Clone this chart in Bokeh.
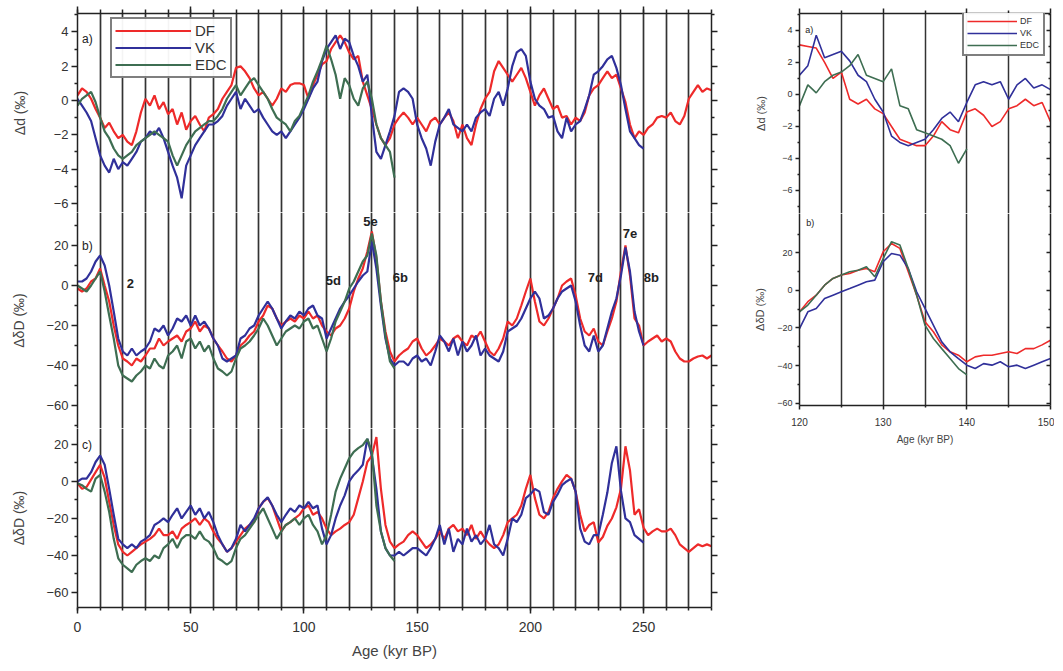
from bokeh.plotting import figure
from bokeh.models import LinearAxis, FixedTicker, Grid, CustomJSTickFormatter, Legend, LegendItem, Range1d
from bokeh.layouts import column, row
from bokeh.embed import file_html
from bokeh.resources import INLINE
from bokeh.core.properties import value

# ---- data ----
# main panels: DF 0-280 kyr, VK 0-250 kyr, EDC 0-140 kyr, every 2 kyr
age_df = list(range(0, 282, 2))
age_vk = list(range(0, 252, 2))
age_edc = list(range(0, 142, 2))

a_df = [0.3, 0.7, 0.5, 0.1, -0.5, -1.0, -1.6, -1.3, -1.8, -2.2,
        -2.0, -2.4, -2.6, -1.8, -0.7, 0.1, -0.3, 0.3, -0.5, -0.1,
        -0.8, -0.5, -1.4, -0.7, -1.7, -1.2, -0.9, -1.4, -1.8, -1.0,
        -0.8, -0.5, 0.1, 0.5, 0.9, 1.9, 2.0, 1.7, 1.3, 0.7,
        0.3, 0.5, 0.1, -0.3, 0.1, 0.7, 0.5, 0.9, 1.0, 1.0,
        0.9, 0.1, 0.9, 1.5, 2.1, 2.3, 3.0, 3.4, 3.8, 3.4,
        2.8, 2.4, 2.6, 1.1, 0.3, -0.5, -1.4, -2.2, -2.6, -2.2,
        -1.4, -1.0, -0.7, -1.0, -1.4, -1.0, -1.4, -1.8, -1.2, -1.0,
        -1.4, -1.0, -0.7, -1.2, -2.2, -1.4, -2.2, -2.6, -1.4, -0.5,
        0.1, 0.5, 1.7, 2.3, 1.9, 1.5, 1.1, 1.5, 1.9, 1.3,
        0.5, -0.3, 0.3, 0.7, 0.1, -0.5, -0.3, -1.0, -0.9, -1.4,
        -1.0, -1.2, -0.7, 0.3, 0.7, 0.9, 1.3, 1.7, 1.3, 1.5,
        0.7, -0.1, -1.4, -2.2, -1.8, -2.0, -1.6, -1.4, -1.0, -0.9,
        -1.0, -0.7, -1.2, -1.4, -0.9, 0.1, 0.5, 0.9, 0.5, 0.7, 0.6]
a_vk = [0.1, -0.3, -0.7, -1.2, -2.2, -3.2, -3.8, -4.2, -3.4, -4.0,
        -3.6, -3.8, -3.4, -3.0, -2.4, -2.2, -1.8, -2.0, -1.6, -2.2,
        -3.0, -3.8, -4.5, -5.7, -3.8, -3.2, -2.6, -2.2, -1.8, -1.4,
        -1.4, -1.2, -0.9, -0.3, 0.1, 0.5, -0.5, 0.1, -0.3, -0.7,
        -0.5, -1.0, -1.4, -1.8, -2.0, -1.8, -2.2, -1.8, -1.4, -1.0,
        -0.5, 0.1, 0.7, 1.1, 2.3, 3.0, 3.4, 3.8, 3.0, 3.6,
        3.4, 2.6, 2.0, 1.1, 1.5, -0.9, -3.0, -3.4, -2.6, -1.8,
        -0.9, 0.5, 0.7, 0.5, 0.1, -1.4, -2.2, -2.8, -3.8, -2.4,
        -1.4, -1.0, -0.5, -1.4, -1.6, -1.8, -1.4, -1.8, -1.0, -0.7,
        -0.5, -0.9, 0.1, 0.5, -0.3, 0.7, 2.0, 2.8, 3.0, 2.6,
        1.1, 0.1, -0.3, -0.5, -1.0, -0.9, -1.8, -2.2, -1.0, -1.8,
        -1.4, -1.2, -0.5, 0.3, 1.5, 1.7, 2.0, 2.4, 2.6, 1.9,
        0.9, -0.5, -1.8, -2.2, -2.6, -2.8]
a_edc = [-0.3, 0.1, 0.3, 0.5, -0.1, -1.0, -1.8, -2.2, -2.8, -3.2,
         -3.4, -3.2, -3.0, -2.6, -2.4, -2.2, -2.0, -1.8, -2.0, -2.2,
         -2.4, -3.2, -3.8, -3.2, -2.6, -2.2, -1.8, -1.6, -1.4, -1.2,
         -1.2, -0.9, -0.5, 0.1, 0.5, 0.9, 0.3, 0.7, 1.1, 1.3,
         0.9, 0.5, 0.1, -0.5, -1.0, -1.2, -1.4, -1.8, -1.2, -0.9,
         -0.3, 0.3, 1.1, 1.7, 2.4, 3.2, 2.4, 1.5, 0.1, 1.3,
         0.9, 0.1, -0.3, 0.7, 1.1, 0.1, -1.4, -2.2, -2.6, -3.0, -4.5]

b_df = [-1.5, -3, -1.5, 2, 3.5, 8.5, 0, -8, -20, -30,
        -36.5, -38, -40, -36.5, -38, -35, -31.5, -31.5, -26.5, -30,
        -28, -26.5, -25, -28, -23, -21.5, -18, -23, -20, -21.5,
        -26.5, -30, -33, -36.5, -38, -35, -30, -28, -25, -23,
        -18, -15, -10, -11.5, -16.5, -20, -18, -16.5, -18, -15,
        -16.5, -13, -16.5, -15, -20, -23, -25, -21.5, -20, -16.5,
        -11.5, -3, 3.5, 8.5, 17, 27, 13.5, -8, -23, -33,
        -38, -35, -33, -31.5, -28, -26.5, -31.5, -35, -33, -30,
        -26.5, -28, -30, -26.5, -25, -28, -30, -25, -26.5, -23,
        -28, -33, -35, -31.5, -26.5, -18, -20, -16.5, -10, -3,
        3.5, -8, -18, -20, -16.5, -11.5, -6.5, 0, 2, 3.5,
        -5, -16.5, -23, -25, -21.5, -28, -30, -23, -16.5, -8,
        7, 20, 5, -16.5, -20, -30, -28, -26.5, -25, -28,
        -26.5, -28, -33, -36.5, -38, -38, -36.5, -35.5, -35, -36.5, -35]
b_vk = [2, 2, 3.5, 7, 12, 15, 10, 0, -13, -26.5,
        -33, -35, -31.5, -35, -33, -31.5, -28, -21.5, -23, -20,
        -25, -21.5, -16.5, -18, -15, -20, -15, -20, -18, -21.5,
        -26.5, -30, -36.5, -38, -36.5, -35, -26.5, -25, -21.5, -20,
        -15, -11.5, -8, -11.5, -16.5, -21.5, -18, -15, -16.5, -13,
        -15, -11.5, -10, -15, -16.5, -26.5, -21.5, -16.5, -11.5, -8,
        -5, -1.5, 2, 5, 7, 22, 8.5, -10, -26.5, -36.5,
        -40, -38, -38, -40, -36.5, -35, -38, -36.5, -40, -33,
        -25, -28, -33, -26.5, -35, -28, -33, -30, -25, -35,
        -31.5, -35, -36.5, -38, -33, -23, -21.5, -20, -16.5, -11.5,
        -6.5, -3, -6.5, -16.5, -15, -11.5, -6.5, -3, -1.5, 0,
        -8, -20, -30, -33, -25, -33, -30, -21.5, -13, -6.5,
        5, 19, 7, -13, -23, -30]
b_edc = [0, -1.5, -3, 0, 3.5, 7, -3, -15, -26.5, -40,
         -45, -46.5, -48, -45, -43, -40, -41.5, -36.5, -40, -41.5,
         -35, -33, -30, -36.5, -28, -26.5, -31.5, -28, -33, -30,
         -36.5, -41.5, -43, -45, -43, -36.5, -31.5, -30, -28, -25,
         -21.5, -16.5, -20, -25, -30, -26.5, -23, -21.5, -20, -21.5,
         -18, -16.5, -21.5, -20, -26.5, -33, -26.5, -18, -13, -8,
         -1.5, 2, 7, 12, 15, 26, 15, -8, -25, -38, -41.5]

c_df = [-1, -4, -3, 1, 5, 9, 2, -11, -23.5, -34,
        -38, -40, -38, -36, -34, -32.5, -31, -29, -25.5, -29,
        -29, -27, -31, -25.5, -23.5, -22, -20, -23.5, -20, -22,
        -27, -31, -34, -38, -36, -32.5, -29, -25.5, -23.5, -22,
        -14.5, -11, -9, -13, -20, -27, -23.5, -22, -20, -18,
        -14.5, -13, -18, -16.5, -20, -25.5, -29, -27, -25.5, -23.5,
        -22, -18, -9, 0, 10.5, 14, 24, -4, -23.5, -32.5,
        -36, -34, -32.5, -29, -27, -29, -32.5, -36, -34, -31,
        -27, -31, -25.5, -23.5, -27, -25.5, -29, -23.5, -31, -27,
        -31, -34, -36, -34, -29, -22, -20, -18, -13, -4,
        3.5, -9, -18, -20, -16.5, -9, -4, 0, 3.5, 1.5,
        -5.5, -18, -27, -23.5, -22, -33, -30, -24, -20, -14,
        -4, 19, 6, -18, -15, -25, -29, -27, -25.5, -27,
        -27, -25.5, -29, -34, -36, -38, -36, -34, -35, -34, -35]
c_vk = [0, 1.5, 1.5, 5, 10.5, 14, 9, -4, -18, -31,
        -34, -36, -34, -36, -32.5, -31, -29, -23.5, -22, -20,
        -22, -18, -14.5, -20, -16.5, -13, -18, -14.5, -20, -16.5,
        -22, -29, -34, -38, -36, -31, -23.5, -27, -23.5, -20,
        -14.5, -11, -8.5, -13, -18, -22, -18, -14.5, -16.5, -13,
        -14.5, -11, -14.5, -13, -25.5, -34, -29, -20, -13, -7.5,
        0, 3.5, 6, 9, 23, 14, -4, -27, -36, -40,
        -40, -38, -40, -38, -36, -36, -38, -40, -36, -31,
        -23.5, -34, -25.5, -38, -31, -34, -25.5, -32.5, -29, -34,
        -31, -23.5, -34, -36, -40, -31, -20, -22, -18, -9,
        -7, -4, -5.5, -16.5, -18, -11, -7, -2, 0, 1.5,
        -5.5, -25.5, -32.5, -34, -29, -29, -18, -6, 10, 19,
        -5, -20, -22, -29, -31, -33]
c_edc = [-1, -2, -4, -5.5, 1.5, 3.5, -5.5, -16.5, -31, -41.5,
         -45, -47, -49, -45, -43, -41.5, -43, -40, -41.5, -36,
         -34, -31, -36, -31, -29, -29, -31, -27, -31, -32.5,
         -36, -41.5, -43, -45, -43, -36, -31, -29, -25.5, -22,
         -18, -14.5, -20, -25.5, -31, -27, -23.5, -22, -20, -23.5,
         -20, -18, -23.5, -27, -34, -29, -18, -5.5, 1.5, 7,
         12.5, 16, 18, 19.6, 23, 16, -13, -27, -36, -40, -43]

# right-hand zoom panel: 120-150 kyr, every 1 kyr (EDC to 140)
age_r = list(range(120, 151))
age_r_edc = list(range(120, 141))
ra_df = [3.1, 3.0, 2.9, 2.0, 1.0, 1.4, -0.3, -0.6, -0.3, -0.9, -1.2, -2.0, -2.8, -3.0, -3.2, -3.2,
         -2.6, -1.7, -2.2, -2.4, -1.1, -0.9, -1.3, -2.0, -1.7, -0.9, -0.7, -0.3, -0.7, -0.5, -1.7]
ra_vk = [1.2, 1.8, 3.7, 2.3, 2.5, 2.7, 2.1, 1.2, 0.8, -0.3, -1.1, -2.6, -3.0, -3.2, -3.0, -2.8,
         -2.2, -1.5, -1.1, -1.7, -0.5, 0.6, 0.8, 0.6, 0.8, -0.3, 0.6, 1.0, 0.4, 0.6, 0.3]
ra_edc = [-0.7, 0.6, 0.1, 0.8, 1.2, 1.4, 1.8, 2.5, 1.2, 1.0, 0.8, 1.6, -0.7, -0.9, -2.2, -2.4,
          -2.6, -2.8, -3.2, -4.3, -3.4]
rb_df = [-11.4, -6, -2.5, 2.8, 6.4, 8.2, 9, 10.8, 11.7, 10, 20.6, 25, 22.4, 10, -2.5, -16.7,
         -22, -29, -32.7, -34.5, -38, -35.4, -34.5, -34.5, -33.6, -32.7, -33.6, -31, -31, -29, -26.5]
rb_vk = [-20.3, -11.4, -9.6, -4.3, -2.5, -0.7, 1, 2.8, 4.6, 5.5, 15.3, 19.7, 18.8, 11.7, -0.7, -9.6,
         -18.5, -27.4, -32.7, -36.3, -39.8, -41.6, -39, -39.8, -38, -40.7, -39.8, -41.6, -39.8, -38, -36.3]
rb_edc = [-11.4, -7.8, -2.5, 2.8, 6.4, 8.2, 10, 10.8, 12.6, 7.3, 17, 26, 24.2, 11.7, -2.5, -18.5,
          -25.6, -31, -36.3, -41.6, -45]

# stage labels in panel b
stage_age = [23.4, 113, 129.4, 142.6, 228.7, 244, 253.4]
stage_val = [1, 2.5, 32, 4, 4, 26, 4]
stage_txt = ["2", "5d", "5e", "6b", "7d", "7e", "8b"]

RED = "#ee2a2a"
BLUE = "#30309a"
GREEN = "#3e6e52"
INK = "#222222"
FONT = "Liberation Sans"


def style_axis(ax, ticks, minor, out=6, mout=3, size="13px", labels=True, tin=0):
    ax.ticker = FixedTicker(ticks=ticks, minor_ticks=minor)
    ax.axis_line_color = INK
    ax.axis_line_width = 1.5
    ax.major_tick_line_color = INK
    ax.minor_tick_line_color = INK
    ax.major_tick_line_width = 1.5
    ax.minor_tick_line_width = 1.5
    ax.major_tick_out = out
    ax.minor_tick_out = mout
    ax.major_tick_in = tin
    ax.minor_tick_in = tin // 2
    ax.major_label_text_font = FONT
    ax.major_label_text_font_size = size
    ax.major_label_text_color = "#333333"
    ax.major_label_standoff = 3
    ax.axis_label_text_font = FONT
    ax.axis_label_text_font_style = "normal"
    ax.axis_label_text_color = "#444444"
    if not labels:
        ax.formatter = CustomJSTickFormatter(code="return ''")
        ax.major_label_text_font_size = "1px"
        ax.major_label_standoff = 0


def make_fig(xr, yr, fw, fh, left, right, top=0, bottom=0):
    p = figure(x_range=xr, y_range=yr, frame_width=fw, frame_height=fh,
               x_axis_location=None, y_axis_location="left",
               toolbar_location=None, output_backend="svg",
               min_border_left=left, min_border_right=right,
               min_border_top=top, min_border_bottom=bottom)
    p.outline_line_color = None
    p.grid.visible = False
    p.background_fill_color = "white"
    return p


def vlines(p, ticks, width):
    g = Grid(dimension=0, ticker=FixedTicker(ticks=ticks))
    g.grid_line_color = "#333333"
    g.grid_line_width = width
    p.add_layout(g)


# ---------------- main stack ----------------
xr = Range1d(0, 280)
xt_major = [0, 50, 100, 150, 200, 250]
xt_minor = list(range(0, 281, 10))
main_lines = list(range(10, 280, 10))

pa = make_fig(xr, (-6.53, 5.07), 634, 199, 77, 40, top=13)
pb = make_fig(xr, (-71.5, 36.5), 634, 216, 77, 40)
pc = make_fig(xr, (-68.1, 28.6), 634, 179, 77, 40, bottom=56)

for p in (pa, pb, pc):
    vlines(p, main_lines, 1.7)
    p.add_layout(LinearAxis(), "right")

style_axis(pa.yaxis[0], [-6, -4, -2, 0, 2, 4], [-5, -3, -1, 1, 3, 5])
style_axis(pa.yaxis[1], [-6, -4, -2, 0, 2, 4], [-5, -3, -1, 1, 3, 5], labels=False)
pa.yaxis[0].axis_label = "Δd (‰)"
pa.yaxis[0].axis_label_standoff = 23
for p in (pb, pc):
    style_axis(p.yaxis[0], [-60, -40, -20, 0, 20], [-70, -50, -30, -10, 10, 30])
    style_axis(p.yaxis[1], [-60, -40, -20, 0, 20], [-70, -50, -30, -10, 10, 30], labels=False)
    p.yaxis[0].axis_label = "ΔδD (‰)"
    p.yaxis[0].axis_label_standoff = 16
for p in (pa, pb, pc):
    p.yaxis[0].axis_label_text_font_size = "14px"

top_ax = LinearAxis()
style_axis(top_ax, xt_major, xt_minor, out=7, mout=4, labels=False)
pa.add_layout(top_ax, "above")

bot_ax = LinearAxis(axis_label="Age (kyr BP)")
style_axis(bot_ax, xt_major, xt_minor, out=6, mout=3, size="14px")
bot_ax.major_label_standoff = 8
bot_ax.axis_label_text_font_size = "15px"
bot_ax.axis_label_standoff = 7
pc.add_layout(bot_ax, "below")

ra1 = pa.line(age_df, a_df, color=RED, line_width=2.2)
ra2 = pa.line(age_vk, a_vk, color=BLUE, line_width=2.2)
ra3 = pa.line(age_edc, a_edc, color=GREEN, line_width=2.2)
pb.line(age_df, b_df, color=RED, line_width=2.2)
pb.line(age_vk, b_vk, color=BLUE, line_width=2.2)
pb.line(age_edc, b_edc, color=GREEN, line_width=2.2)
pc.line(age_df, c_df, color=RED, line_width=2.2)
pc.line(age_vk, c_vk, color=BLUE, line_width=2.2)
pc.line(age_edc, c_edc, color=GREEN, line_width=2.2)

leg = Legend(items=[LegendItem(label="DF", renderers=[ra1]),
                    LegendItem(label="VK", renderers=[ra2]),
                    LegendItem(label="EDC", renderers=[ra3])],
             location=(33, 134))
leg.border_line_color = "black"
leg.border_line_width = 2
leg.label_text_font = FONT
leg.label_text_font_size = "15px"
leg.label_text_color = "#333333"
leg.glyph_width = 76
leg.glyph_height = 17
leg.label_height = 17
leg.label_standoff = 4
leg.spacing = 0
leg.padding = 3
leg.margin = 0
pa.add_layout(leg)

pa.text(x=[2], y=[3.6], text=["a)"], text_font=value(FONT), text_font_size="12px",
        text_color=INK, text_baseline="middle")
pb.text(x=[2], y=[20], text=["b)"], text_font=value(FONT), text_font_size="12px",
        text_color=INK, text_baseline="middle")
pc.text(x=[2], y=[19.5], text=["c)"], text_font=value(FONT), text_font_size="12px",
        text_color=INK, text_baseline="middle")
pb.text(x=stage_age, y=stage_val, text=stage_txt, text_font=value(FONT), text_font_size="13px",
        text_font_style="bold", text_color=INK, text_align="center", text_baseline="middle")

# ---------------- right zoom panel ----------------
xr2 = Range1d(120, 150)
r_lines = [125, 130, 135, 140, 145]
qa = make_fig(xr2, (-7.44, 5.06), 251, 200, 47, 4, top=13)
qb = make_fig(xr2, (-61.3, 41), 251, 192, 47, 4, bottom=45)
for q in (qa, qb):
    vlines(q, r_lines, 1.5)
    q.add_layout(LinearAxis(), "right")

style_axis(qa.yaxis[0], [-6, -4, -2, 0, 2, 4], [-7, -5, -3, -1, 1, 3, 5], out=4, mout=2, size="9px")
style_axis(qa.yaxis[1], [-6, -4, -2, 0, 2, 4], [-7, -5, -3, -1, 1, 3, 5], out=0, mout=0, labels=False, tin=4)
qa.yaxis[0].axis_label = "Δd (‰)"
qa.yaxis[0].axis_label_standoff = 12
style_axis(qb.yaxis[0], [-60, -40, -20, 0, 20], [-50, -30, -10, 10, 30], out=4, mout=2, size="9px")
style_axis(qb.yaxis[1], [-60, -40, -20, 0, 20], [-50, -30, -10, 10, 30], out=0, mout=0, labels=False, tin=4)
qb.yaxis[0].axis_label = "ΔδD (‰)"
qb.yaxis[0].axis_label_standoff = 8
for q in (qa, qb):
    q.yaxis[0].axis_label_text_font_size = "11px"

top2 = LinearAxis()
style_axis(top2, [120, 130, 140, 150], [125, 135, 145], out=5, mout=3, labels=False)
qa.add_layout(top2, "above")
bot2 = LinearAxis(axis_label="Age (kyr BP)")
style_axis(bot2, [120, 130, 140, 150], [125, 135, 145], out=4, mout=2, size="10px")
bot2.major_label_standoff = 8
bot2.axis_label_text_font_size = "10px"
bot2.axis_label_standoff = 5
qb.add_layout(bot2, "below")

qa1 = qa.line(age_r, ra_df, color=RED, line_width=1.6)
qa2 = qa.line(age_r, ra_vk, color=BLUE, line_width=1.6)
qa3 = qa.line(age_r_edc, ra_edc, color=GREEN, line_width=1.6)
qb.line(age_r, rb_df, color=RED, line_width=1.6)
qb.line(age_r, rb_vk, color=BLUE, line_width=1.6)
qb.line(age_r_edc, rb_edc, color=GREEN, line_width=1.6)

leg2 = Legend(items=[LegendItem(label="DF", renderers=[qa1]),
                     LegendItem(label="VK", renderers=[qa2]),
                     LegendItem(label="EDC", renderers=[qa3])],
              location=(163, 157))
leg2.border_line_color = "black"
leg2.border_line_width = 2
leg2.label_text_font = FONT
leg2.label_text_font_size = "9px"
leg2.label_text_color = "#333333"
leg2.glyph_width = 50
leg2.glyph_height = 12
leg2.label_height = 12
leg2.label_standoff = 3
leg2.spacing = 0
leg2.padding = 3
leg2.margin = 0
qa.add_layout(leg2)

qa.text(x=[120.7], y=[4.0], text=["a)"], text_font=value(FONT), text_font_size="9px",
        text_color=INK, text_baseline="middle")
qb.text(x=[120.8], y=[35.7], text=["b)"], text_font=value(FONT), text_font_size="9px",
        text_color=INK, text_baseline="middle")

layout = row(column(pa, pb, pc, spacing=0), column(qa, qb, spacing=0), spacing=0)
open("out.html", "w").write(file_html(layout, INLINE))
